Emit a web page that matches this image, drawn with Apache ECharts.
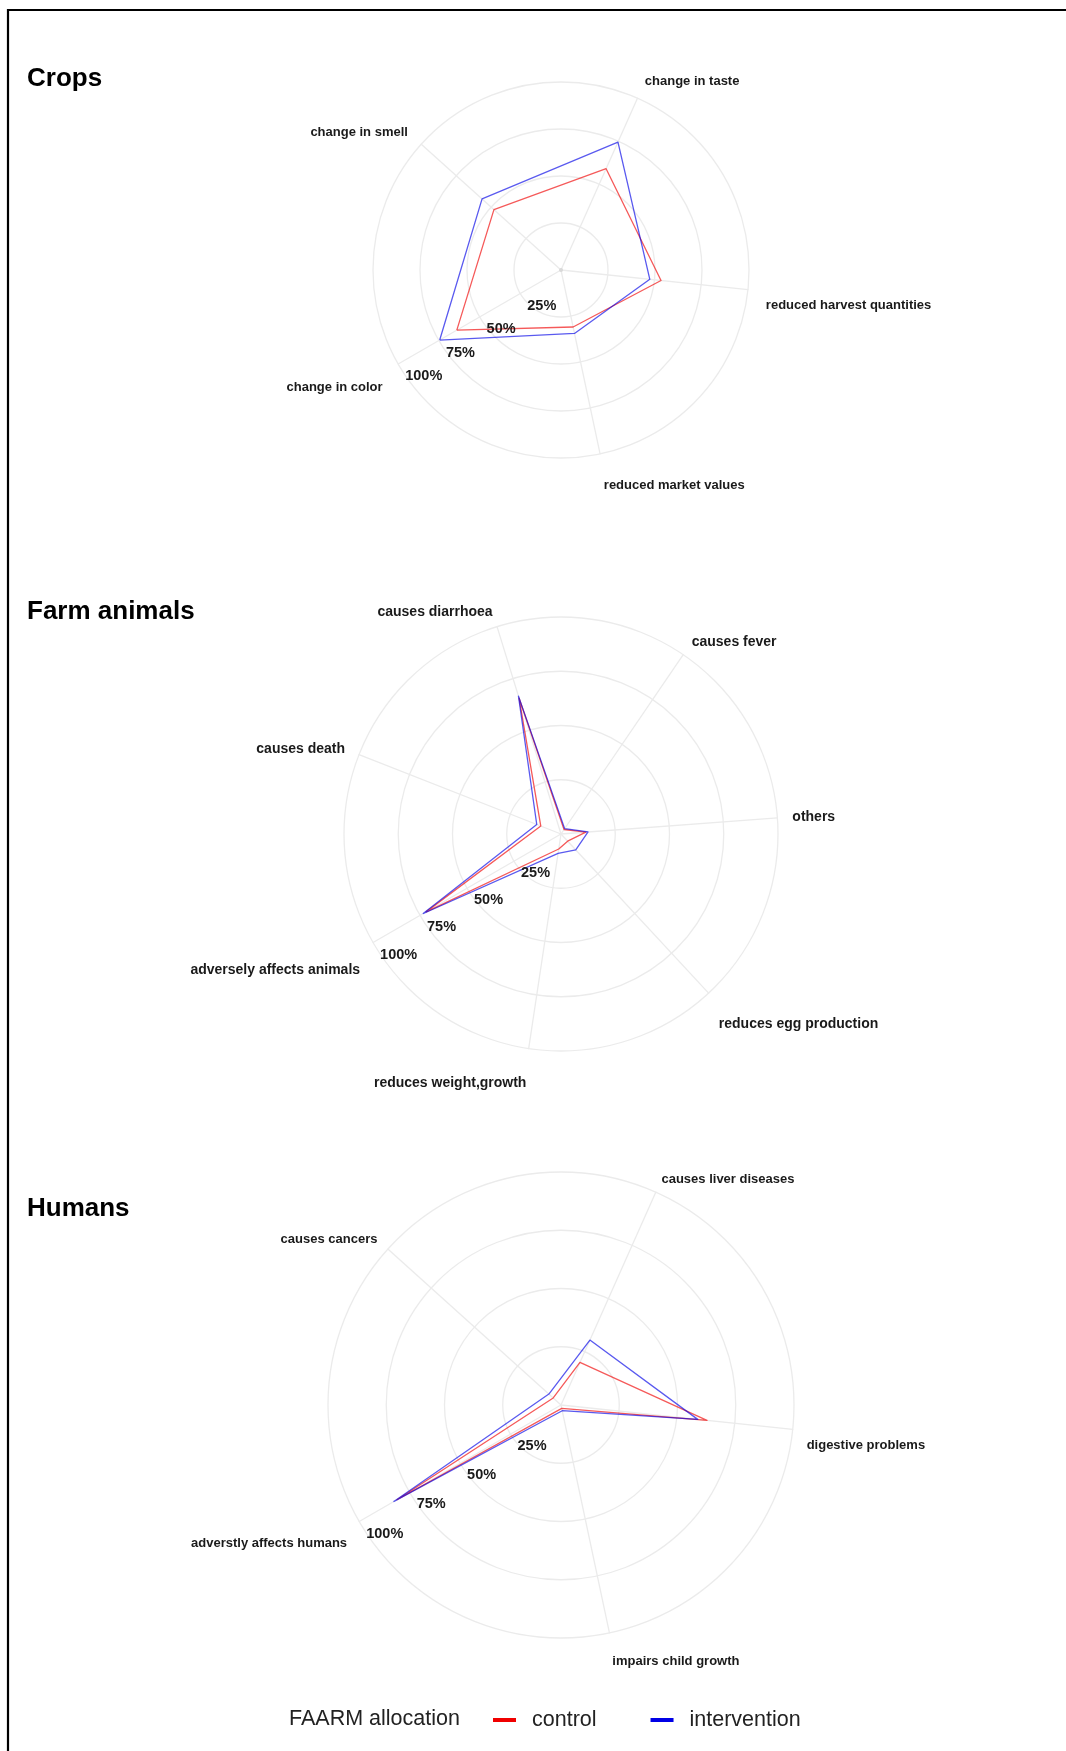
<!DOCTYPE html>
<html>
<head>
<meta charset="utf-8">
<script src="https://cdn.jsdelivr.net/npm/echarts@6/dist/echarts.min.js"></script>
<style>
  html, body { margin: 0; padding: 0; background: #ffffff; }
  #chart { width: 1066px; height: 1751px; }
</style>
</head>
<body>
<div id="chart"></div>
<script>
// Perceived effects of aflatoxin, share of respondents (%) by FAARM allocation.
// Categories are listed clockwise, starting from the lower-left spoke.
const cropCategories = ['change in color', 'change in smell', 'change in taste', 'reduced harvest quantities', 'reduced market values'];
const cropControl = [64, 48, 59, 53.5, 31];
const cropIntervention = [74.5, 56.5, 74.5, 47.5, 34.5];

const animalCategories = ['adversely affects animals', 'causes death', 'causes diarrhoea', 'causes fever', 'others', 'reduces egg production', 'reduces weight,growth'];
const animalControl = [72, 10, 65.5, 2.5, 11.5, 4.5, 7];
const animalIntervention = [73.5, 12, 66.5, 3, 12.5, 10, 9];

const humanCategories = ['adverstly affects humans', 'causes cancers', 'causes liver diseases', 'digestive problems', 'impairs child growth'];
const humanControl = [81.5, 4.5, 20, 63, 1.5];
const humanIntervention = [83, 7, 30.5, 59, 2.5];

const groups = ['control', 'intervention'];
const gridMax = 100;
const gridStep = 25;

// ---- styling ----
const FONT = '"Liberation Sans", Arial, Helvetica, sans-serif';
const TEXT = '#1a1a1a';
const GROUP_COLORS = ['#f00000', '#0000e6'];
const GRID_COLOR = '#ebebeb';
const FIRST_CW = 240;                    // first spoke, degrees clockwise from 12 o'clock
const START_ANGLE = 90 - FIRST_CW + 360; // same direction in ECharts' counter-clockwise convention

const panels = [
  { title: 'Crops', titleTop: 66, cats: cropCategories, values: [cropControl, cropIntervention],
    center: [561, 270], radius: 188, nameGap: 18, nameSize: 13, lowShift: 14 },
  { title: 'Farm animals', titleTop: 599, cats: animalCategories, values: [animalControl, animalIntervention],
    center: [561, 834], radius: 217, nameGap: 15, nameSize: 14, lowShift: 20 },
  { title: 'Humans', titleTop: 1196, cats: humanCategories, values: [humanControl, humanIntervention],
    center: [561, 1405], radius: 233, nameGap: 14, nameSize: 13, lowShift: 15 }
];

// ECharts lays radar spokes out counter-clockwise; keep spoke 0 and walk the rest backwards
function clockwiseOrder(n) {
  const idx = [0];
  for (let k = n - 1; k >= 1; k--) idx.push(k);
  return idx;
}

// names of spokes that point below the centre line
function lowerNames(cats) {
  const n = cats.length;
  const out = new Set();
  cats.forEach((c, j) => {
    const a = (FIRST_CW + j * 360 / n) * Math.PI / 180;
    if (Math.cos(a) < 0) out.add(c);
  });
  return out;
}

const radar = [];
const series = [];
const polar = [];
const angleAxis = [];
const radiusAxis = [];
const titles = [];

panels.forEach((p, i) => {
  const order = clockwiseOrder(p.cats.length);
  const low = lowerNames(p.cats);
  const nameStyle = { fontSize: p.nameSize, fontWeight: 'bold', color: TEXT, fontFamily: FONT };

  radar.push({
    center: p.center,
    radius: p.radius,
    startAngle: START_ANGLE,
    shape: 'circle',
    splitNumber: gridMax / gridStep,
    nameGap: p.nameGap,
    axisName: Object.assign({}, nameStyle, {
      formatter: name => (low.has(name) ? '{lo|' : '{up|') + name + '}',
      rich: {
        up: Object.assign({}, nameStyle),
        lo: Object.assign({}, nameStyle, { padding: [2 * p.lowShift, 0, 0, 0] })
      }
    }),
    splitLine: { lineStyle: { color: GRID_COLOR, width: 1.3 } },
    splitArea: { show: false },
    axisLine: { lineStyle: { color: GRID_COLOR, width: 1.3 } },
    axisTick: { show: false },
    axisLabel: { show: false },
    indicator: order.map(j => ({ name: p.cats[j], min: 0, max: gridMax }))
  });

  series.push({
    type: 'radar',
    radarIndex: i,
    symbol: 'none',
    silent: true,
    z: 3,
    data: groups.map((g, k) => ({
      name: g,
      value: order.map(j => p.values[k][j]),
      itemStyle: { color: GROUP_COLORS[k] },
      lineStyle: { color: GROUP_COLORS[k], width: 1.3, opacity: 0.65 }
    }))
  });

  // percentage scale printed along the first spoke
  polar.push({ center: p.center, radius: p.radius });
  angleAxis.push({
    polarIndex: i, type: 'value', min: 0, max: 360, startAngle: START_ANGLE,
    axisLine: { show: false }, axisTick: { show: false }, axisLabel: { show: false }, splitLine: { show: false }
  });
  radiusAxis.push({
    polarIndex: i, type: 'value', min: 0, max: gridMax, interval: gridStep, z: 10,
    axisLine: { show: false }, axisTick: { show: false }, splitLine: { show: false },
    axisLabel: {
      margin: 14, fontSize: 14.5, fontWeight: 'bold', color: TEXT, fontFamily: FONT,
      formatter: v => (v > 0 ? v + '%' : '')
    }
  });

  titles.push({
    text: p.title, left: 27, top: p.titleTop, padding: 0,
    textStyle: { fontSize: 26, fontWeight: 'bold', color: '#000', fontFamily: FONT }
  });
});

titles.push({
  text: 'FAARM allocation', left: 289, top: 1708, padding: 0,
  textStyle: { fontSize: 21.5, fontWeight: 'normal', color: '#222', fontFamily: FONT }
});

const chart = echarts.init(document.getElementById('chart'), null, { renderer: 'canvas' });
chart.setOption({
  backgroundColor: '#ffffff',
  animation: false,
  title: titles,
  legend: {
    data: groups,
    left: 488,
    top: 1704,
    icon: 'rect',
    itemWidth: 23,
    itemHeight: 4,
    itemGap: 54,
    selectedMode: false,
    formatter: name => '{t|' + name + '}',
    textStyle: {
      fontSize: 21.5, color: '#222', fontFamily: FONT,
      rich: { t: { fontSize: 21.5, color: '#222', fontFamily: FONT, padding: [0, 0, 0, 11] } }
    }
  },
  radar: radar,
  polar: polar,
  angleAxis: angleAxis,
  radiusAxis: radiusAxis,
  series: series,
  graphic: [
    { type: 'line', shape: { x1: 7, y1: 10, x2: 1066, y2: 10 }, style: { stroke: '#000', lineWidth: 2.2 } },
    { type: 'line', shape: { x1: 8, y1: 9, x2: 8, y2: 1751 }, style: { stroke: '#000', lineWidth: 2.2 } },
    // small hub mark at the centre of the crops panel
    { type: 'circle', shape: { cx: 561, cy: 270, r: 2 }, style: { fill: '#d9d9d9' }, z: 1 }
  ]
});
</script>
</body>
</html>
